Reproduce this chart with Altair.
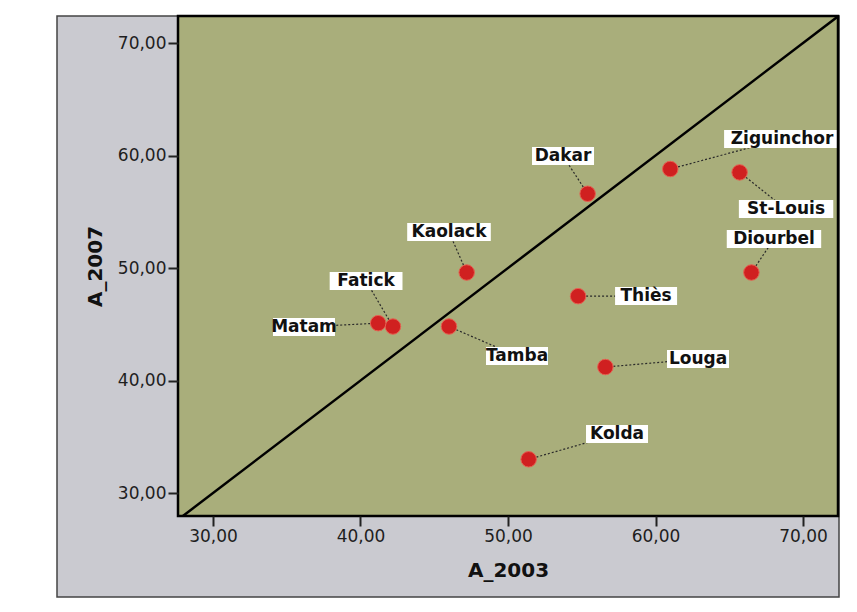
import altair as alt
import pandas as pd

# --- data ---
names = ["Dakar", "Ziguinchor", "St-Louis", "Diourbel", "Kaolack", "Thiès",
         "Fatick", "Matam", "Tamba", "Louga", "Kolda"]
a2003 = [55.4, 61.0, 65.7, 66.5, 47.2, 54.75, 42.2, 41.2, 46.0, 56.6, 51.4]
a2007 = [56.6, 58.8, 58.5, 49.6, 49.6, 47.5, 44.8, 45.1, 44.8, 41.2, 33.0]
# label anchors (data units)
label_x = [53.73, 68.58, 68.85, 68.03, 46.0, 59.36, 40.38, 36.17, 50.61, 62.88, 57.39]
label_y = [59.96, 61.47, 55.24, 52.58, 53.2, 47.51, 48.84, 44.76, 42.18, 41.91, 35.24]
tick_values = [30, 40, 50, 60, 70]
x_domain = [27.63, 72.37]
y_domain = [27.96, 72.4]
ref_line = [27.63, 72.4]

W, H = 660, 500

df = pd.DataFrame({"name": names, "a2003": a2003, "a2007": a2007,
                   "lx": label_x, "ly": label_y})
ref = pd.DataFrame({"v": ref_line})
one = pd.DataFrame({"d": [0]})

fmt = "replace(format(datum.value, '.2f'), '.', ',')"
xaxis = alt.Axis(title="A_2003", values=tick_values, labelExpr=fmt, domain=False,
                 grid=False, tickSize=10, tickWidth=2, tickColor="#222",
                 labelPadding=2, labelFont="DejaVu Sans", labelFontSize=17,
                 labelColor="#1e1e1e", titleFont="DejaVu Sans", titleFontSize=20,
                 titleFontWeight="bold", titleColor="#111", titlePadding=16,
                 zindex=1)
yaxis = alt.Axis(title="A_2007", values=tick_values, labelExpr=fmt, domain=False,
                 grid=False, tickSize=10, tickWidth=2, tickColor="#222",
                 labelPadding=2, labelFont="DejaVu Sans", labelFontSize=17,
                 labelColor="#1e1e1e", titleFont="DejaVu Sans", titleFontSize=20,
                 titleFontWeight="bold", titleColor="#111", titlePadding=12,
                 zindex=1)
xs = alt.Scale(domain=x_domain, nice=False, zero=False)
ys = alt.Scale(domain=y_domain, nice=False, zero=False)


def X(f):
    return alt.X(f, type="quantitative", scale=xs, axis=xaxis)


def Y(f):
    return alt.Y(f, type="quantitative", scale=ys, axis=yaxis)


panel = alt.Chart(one).mark_rect(fill="#cacad0", stroke="#444", strokeWidth=1.5).encode(
    x=alt.value(-121), x2=alt.value(W + 1), y=alt.value(0), y2=alt.value(581))
plotbg = alt.Chart(one).mark_rect(fill="#a9ae7b").encode(
    x=alt.value(0), x2=alt.value(W), y=alt.value(0), y2=alt.value(H))

diag = alt.Chart(ref).mark_line(color="black", strokeWidth=2.5, clip=True).encode(
    x=X("v"), y=Y("v"))

leaders = alt.Chart(df).mark_rule(color="#2a2a2a", strokeDash=[2, 2], strokeWidth=1.2).encode(
    x=X("a2003"), y=Y("a2007"), x2="lx", y2="ly")

points = alt.Chart(df).mark_circle(size=240, color="#d02020", opacity=1,
                                   stroke="#e66050", strokeWidth=1).encode(
    x=X("a2003"), y=Y("a2007"))

boxes = alt.Chart(df).transform_calculate(
    hw="(length(datum.name) * 5.4 + 4) / 14.75",
    bx1="datum.lx - datum.hw", bx2="datum.lx + datum.hw",
    by1="datum.ly - 0.8", by2="datum.ly + 0.8",
).mark_rect(fill="white", clip=True).encode(
    x=X("bx1:Q"), x2="bx2:Q", y=Y("by1:Q"), y2="by2:Q")

labels = alt.Chart(df).mark_text(font="DejaVu Sans", fontSize=17, fontWeight="bold",
                                 color="#111", clip=True).encode(
    x=X("lx"), y=Y("ly"), text="name:N")

frame = alt.Chart(one).mark_rect(fill="transparent", stroke="black", strokeWidth=2.5).encode(
    x=alt.value(0), x2=alt.value(W), y=alt.value(0), y2=alt.value(H))

chart = alt.layer(panel, plotbg, diag, leaders, points, boxes, labels, frame).properties(
    width=W, height=H,
    autosize=alt.AutoSizeParams(type="none"),
    padding={"left": 170, "top": 8, "right": 10, "bottom": 82},
    background="white",
).configure_view(stroke=None)

chart.save("out.html", embed_options={"renderer": "svg", "actions": False})
